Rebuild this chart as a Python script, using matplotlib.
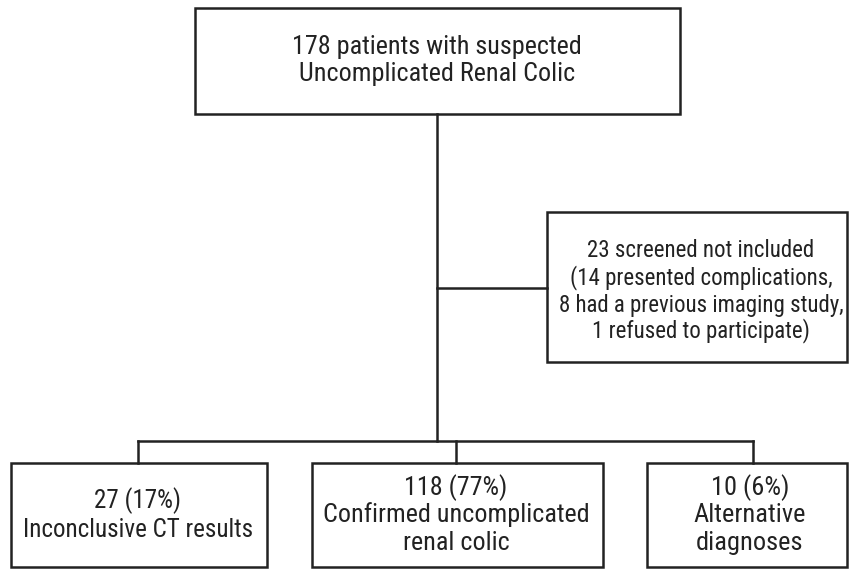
import matplotlib
matplotlib.use("Agg")
import matplotlib.pyplot as plt
from matplotlib.patches import Rectangle
from matplotlib import font_manager

# ---------- flowchart content ----------
top_label = ["178 patients with suspected", "Uncomplicated Renal Colic"]
excluded_label = ["23 screened not included", "(14 presented complications,",
                  "8 had a previous imaging study,", "1 refused to participate)"]
outcome_labels = [["27 (17%)", "Inconclusive CT results"],
                  ["118 (77%)", "Confirmed uncomplicated", "renal colic"],
                  ["10 (6%)", "Alternative", "diagnoses"]]

# ---------- layout (pixels, y grows downward) ----------
W, H = 849, 569
top_box = (195, 8, 680, 114)          # x0, y0, x1, y1
excl_box = (547, 212, 847, 362)
out_boxes = [(11, 463, 267, 567), (312, 463, 603, 567), (647, 463, 847, 567)]
trunk_x = 437
branch_y = 288
split_y = 441
stub_x = [138, 456, 753]

# pick a narrow font if one is there (reference looks like Calibri)
names = {f.name for f in font_manager.fontManager.ttflist}
fam = "DejaVu Sans"
for cand in ["Liberation Sans Narrow", "Roboto Condensed", "Open Sans Condensed",
             "DejaVu Sans Condensed", "Lato", "Noto Sans"]:
    if cand in names:
        fam = cand
        break
plt.rcParams['font.family'] = [fam, 'DejaVu Sans']

fig = plt.figure(figsize=(W / 100, H / 100), dpi=100)
ax = fig.add_axes([0, 0, 1, 1])
ax.set_xlim(0, W)
ax.set_ylim(H, 0)
ax.axis("off")

lw = 1.8
col = "#222222"


def fit_size(line, target):
    # font size that makes `line` about `target` px wide
    probe = ax.text(0, 0, line, fontsize=15)
    fig.canvas.draw()
    w = probe.get_window_extent().width
    probe.remove()
    return 15 * target / w


def box(b, lines, cx, ys, widest, target):
    x0, y0, x1, y1 = b
    ax.add_patch(Rectangle((x0, y0), x1 - x0, y1 - y0, fill=False, lw=lw, ec=col, clip_on=False))
    fs = fit_size(widest, target)
    for line, y in zip(lines, ys):
        ax.text(cx, y, line, ha="center", va="center", fontsize=fs, color=col)


box(top_box, top_label, 437, [47, 74], top_label[0], 290)
box(excl_box, excluded_label, 701, [250, 278, 305, 331], excluded_label[2], 285)
box(out_boxes[0], outcome_labels[0], 138, [501, 530], outcome_labels[0][1], 230)
box(out_boxes[1], outcome_labels[1], 456, [488, 515, 543], outcome_labels[1][1], 267)
box(out_boxes[2], outcome_labels[2], 750, [488, 515, 543], outcome_labels[2][1], 112)

# connectors
ax.plot([trunk_x, trunk_x], [top_box[3], split_y], color=col, lw=lw)
ax.plot([trunk_x, excl_box[0]], [branch_y, branch_y], color=col, lw=lw)
ax.plot([stub_x[0], stub_x[-1]], [split_y, split_y], color=col, lw=lw)
for sx in stub_x:
    ax.plot([sx, sx], [split_y, out_boxes[0][1]], color=col, lw=lw)

fig.savefig("out.png", dpi=100)
